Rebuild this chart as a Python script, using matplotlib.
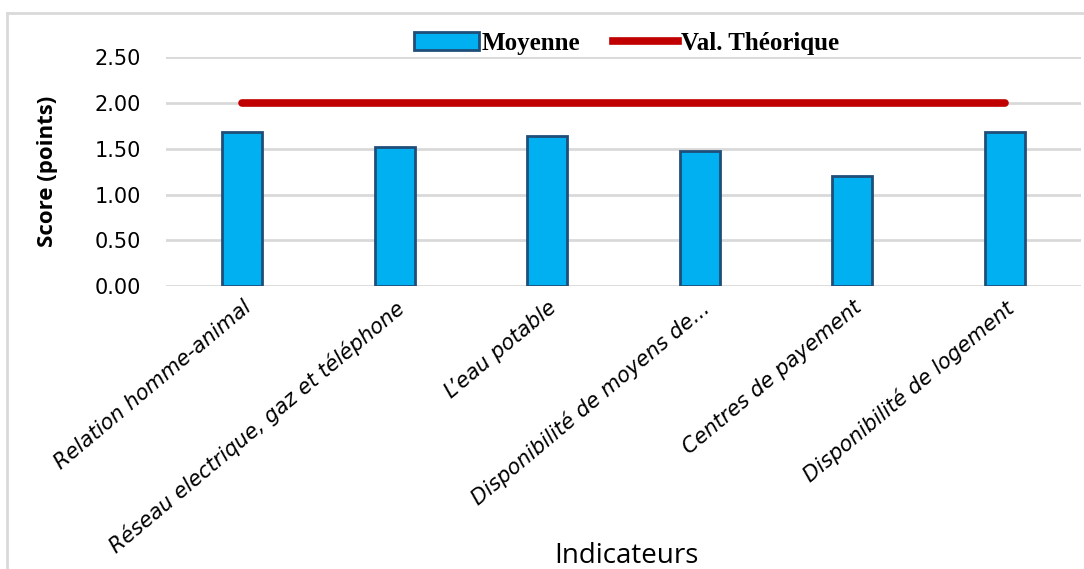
import matplotlib.pyplot as plt
from matplotlib.lines import Line2D
from matplotlib.patches import Patch

indicateurs = ['Relation homme-animal',
               'Réseau electrique, gaz et téléphone',
               'L\u2019eau potable',
               'Disponibilité de moyens de...',
               'Centres de payement',
               'Disponibilité de logement']
moyenne = [1.68, 1.52, 1.64, 1.48, 1.20, 1.68]
val_theorique = [2.00, 2.00, 2.00, 2.00, 2.00, 2.00]
y_ticks = [0.0, 0.5, 1.0, 1.5, 2.0, 2.5]

fig = plt.figure(figsize=(10.84, 5.69), dpi=100)
ax = fig.add_axes([0.1531, 0.4974, 0.8441, 0.4019])

x = list(range(len(indicateurs)))
ax.bar(x, moyenne, width=0.26, color='#00B0F0', edgecolor='#1F4E79',
       linewidth=2, zorder=3)
ax.plot(x, val_theorique, color='#C00000', linewidth=5.5,
        solid_capstyle='round', zorder=4)

ax.set_xlim(-0.5, len(indicateurs) - 0.5)
ax.set_ylim(0, 2.5)
ax.set_yticks(y_ticks)
ax.set_yticklabels([f'{v:.2f}' for v in y_ticks], fontsize=15,
                   family='DejaVu Sans')
ax.yaxis.grid(True, color='#D9D9D9', linewidth=2)
ax.set_axisbelow(True)
for s in ax.spines.values():
    s.set_visible(False)
ax.tick_params(axis='both', length=0)
ax.tick_params(axis='y', pad=18)

ax.set_xticks(x)
ax.set_xticklabels(indicateurs, rotation=40, ha='right',
                   rotation_mode='anchor', fontsize=15, style='italic',
                   family='DejaVu Sans')
ax.tick_params(axis='x', pad=8)

ax.set_ylabel('Score (points)', fontsize=16, fontweight='bold',
              family='Open Sans', labelpad=26)
fig.text(0.578, 0.022, 'Indicateurs', ha='center', va='center',
         fontsize=20, family='Open Sans')

handles = [Patch(facecolor='#00B0F0', edgecolor='#1F4E79', linewidth=2),
           Line2D([0], [0], color='#C00000', linewidth=5.5)]
fig.legend(handles, ['Moyenne', 'Val. Théorique'], loc='center',
           bbox_to_anchor=(0.578, 0.924), ncol=2, frameon=False,
           prop={'family': 'Liberation Serif', 'weight': 'bold', 'size': 18},
           handlelength=2.6, handleheight=0.7, columnspacing=1.3,
           handletextpad=0.1)

# chart area frame
fig.add_artist(Line2D([0.0065, 0.0065], [0, 0.977], color='#D9D9D9',
                      linewidth=2, transform=fig.transFigure))
fig.add_artist(Line2D([0.0065, 1], [0.977, 0.977], color='#D9D9D9',
                      linewidth=2, transform=fig.transFigure))

fig.savefig('out.png', dpi=100)
